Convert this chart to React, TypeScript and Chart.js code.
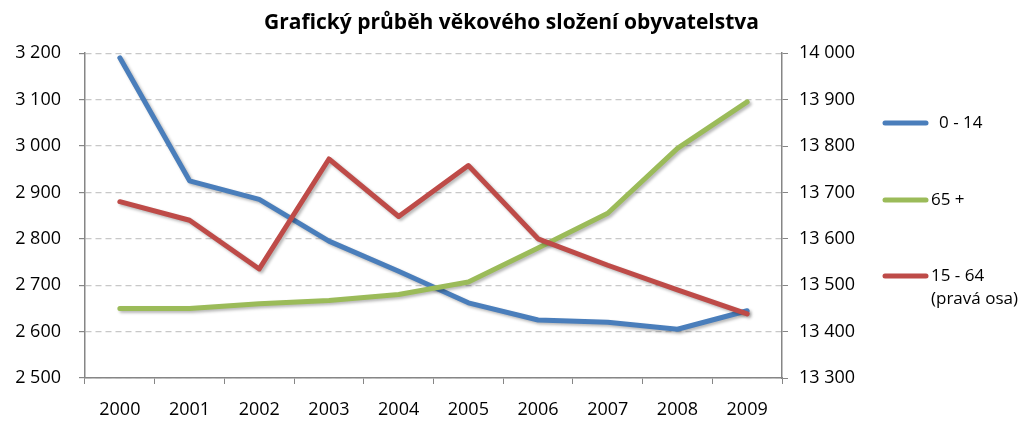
import React, { useEffect, useRef } from "react";
import { Chart, registerables } from "chart.js";

Chart.register(...registerables);

const years = ["2000", "2001", "2002", "2003", "2004", "2005", "2006", "2007", "2008", "2009"];
const age0to14 = [3190, 2925, 2885, 2795, 2730, 2662, 2625, 2620, 2605, 2645];
const age65plus = [2650, 2650, 2660, 2667, 2680, 2707, 2780, 2855, 2995, 3095];
const age15to64 = [13680, 13640, 13535, 13772, 13648, 13758, 13600, 13543, 13490, 13438];

const titleText = "Grafický průběh věkového složení obyvatelstva";
const legendItems = [
  { label: ["0 - 14"], color: "#4a7ebb", y: 123, tx: 939 },
  { label: ["65 +"], color: "#9bbb59", y: 200, tx: 931 },
  { label: ["15 - 64", "(pravá osa)"], color: "#be4b48", y: 276, tx: 931 },
];

const FONT = "'Open Sans', 'Noto Sans', sans-serif";

const fmt = (v: number) => {
  const th = Math.floor(v / 1000);
  const rest = v % 1000;
  return th > 0 ? `${th} ${String(rest).padStart(3, "0")}` : String(v);
};

export default function App() {
  const ref = useRef<HTMLCanvasElement | null>(null);
  useEffect(() => {
    if (!ref.current) return;
    const shadowPlugin = {
      id: "shadow",
      beforeDatasetDraw(chart: any) {
        const c = chart.ctx;
        c.save();
        c.shadowColor = "rgba(0,0,0,0.28)";
        c.shadowBlur = 3;
        c.shadowOffsetX = 2;
        c.shadowOffsetY = 2;
      },
      afterDatasetDraw(chart: any) {
        chart.ctx.restore();
      },
    };
    const legendPlugin = {
      id: "customLegend",
      afterDraw(chart: any) {
        const c = chart.ctx;
        c.save();
        legendItems.forEach((it) => {
          c.strokeStyle = it.color;
          c.lineWidth = 5;
          c.lineCap = "round";
          c.beginPath();
          c.moveTo(885, it.y);
          c.lineTo(926, it.y);
          c.stroke();
          c.fillStyle = "#000";
          c.font = `17px ${FONT}`;
          c.textBaseline = "middle";
          c.textAlign = "left";
          it.label.forEach((l, i) => c.fillText(l, it.tx, it.y + i * 23));
        });
        c.restore();
      },
    };
    const chart = new Chart(ref.current, {
      type: "line",
      data: {
        labels: years,
        datasets: [
          { label: "15 - 64", data: age15to64, yAxisID: "y1", borderColor: "#be4b48", order: 0 },
          { label: "65 +", data: age65plus, yAxisID: "y", borderColor: "#9bbb59", order: 1 },
          { label: "0 - 14", data: age0to14, yAxisID: "y", borderColor: "#4a7ebb", order: 2 },
        ].map((d) => ({
          ...d,
          borderWidth: 5,
          pointRadius: 0,
          tension: 0,
          fill: false,
          borderJoinStyle: "round" as const,
          borderCapStyle: "round" as const,
        })),
      },
      options: {
        animation: false,
        responsive: true,
        maintainAspectRatio: false,
        layout: { padding: 0 },
        plugins: {
          legend: { display: false },
          tooltip: { enabled: false },
          title: {
            display: true,
            text: titleText,
            color: "#000",
            font: { family: FONT, size: 21, weight: "bold", lineHeight: 1.2 },
            padding: { top: 10, bottom: 18 },
          },
        },
        scales: {
          x: {
            type: "category",
            offset: true,
            grid: {
              offset: true,
              drawOnChartArea: false,
              drawTicks: true,
              tickLength: 6,
              tickColor: "#868686",
            },
            border: { color: "#868686", width: 1.5 },
            ticks: { color: "#000", font: { family: FONT, size: 18 }, padding: 15 },
            afterFit: (s: any) => {
              s.height = 45;
            },
          },
          y: {
            position: "left",
            min: 2500,
            max: 3200,
            ticks: {
              stepSize: 100,
              color: "#000",
              font: { family: FONT, size: 18 },
              padding: 18,
              callback: (v: any) => fmt(Number(v)),
            },
            grid: { color: "#c8c8c8", lineWidth: 1.2, tickLength: 6, tickColor: "#868686" },
            border: { color: "#868686", width: 1.5, dash: [6, 4] },
            afterFit: (s: any) => {
              s.width = 85;
            },
          },
          y1: {
            position: "right",
            min: 13300,
            max: 14000,
            ticks: {
              stepSize: 100,
              color: "#000",
              font: { family: FONT, size: 18 },
              padding: 11,
              callback: (v: any) => fmt(Number(v)),
            },
            grid: { drawOnChartArea: false, tickLength: 6, tickColor: "#868686" },
            border: { color: "#868686", width: 1.5 },
            afterFit: (s: any) => {
              s.width = 241;
            },
          },
        },
      },
      plugins: [shadowPlugin, legendPlugin],
    } as any);
    return () => chart.destroy();
  }, []);
  return (
    <div style={{ position: "absolute", left: 0, top: 0, width: 1023, height: 423, background: "#fff" }}>
      <canvas ref={ref} />
    </div>
  );
}
